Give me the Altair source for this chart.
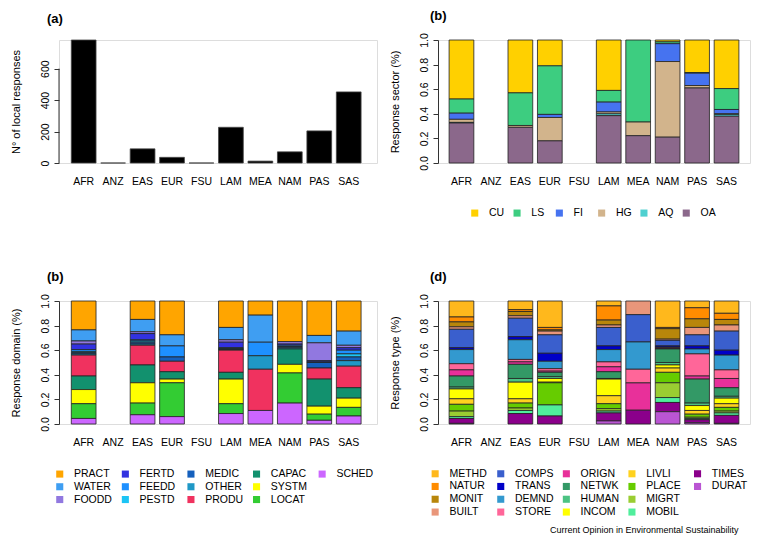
import altair as alt
import pandas as pd

REGIONS = ["AFR", "ANZ", "EAS", "EUR", "FSU", "LAM", "MEA", "NAM", "PAS", "SAS"]

# (a) number of local responses
N_LOCAL = [782, 0, 90, 36, 0, 227, 12, 71, 204, 452]

# (b) response sector shares (AFR, ANZ, EAS, EUR, FSU, LAM, MEA, NAM, PAS, SAS)
SECTORS = ["CU", "LS", "FI", "HG", "AQ", "OA"]
SECTOR_COLORS = ["#FFD000", "#3DCD80", "#4673F0", "#D2B48C", "#4FD0D0", "#8B688B"]
S_CU = [0.48, 0, 0.43, 0.21, 0, 0.41, 0, 0.015, 0.265, 0.395]
S_LS = [0.115, 0, 0.265, 0.395, 0, 0.095, 0.667, 0.015, 0.005, 0.17]
S_FI = [0.05, 0, 0, 0.025, 0, 0.08, 0, 0.145, 0.10, 0.035]
S_HG = [0.025, 0, 0.015, 0.19, 0, 0.015, 0.111, 0.615, 0.02, 0.005]
S_AQ = [0.005, 0, 0, 0, 0, 0.015, 0, 0, 0, 0.015]
S_OA = [0.325, 0, 0.29, 0.18, 0, 0.385, 0.222, 0.21, 0.61, 0.38]

# (c) response domain shares
DOMAINS = ["PRACT", "WATER", "FOODD", "FERTD", "FEEDD", "PESTD", "MEDIC",
           "OTHER", "PRODU", "CAPAC", "SYSTM", "LOCAT", "SCHED"]
DOMAIN_COLORS = ["#FFA500", "#3F9EF2", "#9178E0", "#3232E0", "#1E90FF", "#1CC4F5",
                 "#1560BD", "#1F98C6", "#F0325F", "#12916E", "#FFFF00", "#33CC33", "#CC66FF"]
D_PRACT = [0.235, 0, 0.15, 0.275, 0, 0.215, 0.115, 0.33, 0.28, 0.245]
D_WATER = [0.09, 0, 0.10, 0.09, 0, 0.10, 0.22, 0, 0.06, 0.115]
D_FOODD = [0.025, 0, 0.015, 0, 0, 0.02, 0, 0.02, 0.145, 0.02]
D_FERTD = [0.045, 0, 0.05, 0, 0, 0.045, 0, 0.01, 0.01, 0.02]
D_FEEDD = [0.015, 0, 0.01, 0.09, 0, 0.005, 0.11, 0.01, 0.005, 0.03]
D_PESTD = [0.01, 0, 0.01, 0, 0, 0.005, 0, 0, 0, 0.025]
D_MEDIC = [0.01, 0, 0.015, 0.035, 0, 0.005, 0, 0.01, 0.045, 0.03]
D_OTHER = [0.01, 0, 0.01, 0, 0, 0.005, 0.11, 0.01, 0, 0.045]
D_PRODU = [0.17, 0, 0.16, 0.085, 0, 0.18, 0.335, 0, 0.09, 0.175]
D_CAPAC = [0.11, 0, 0.145, 0.06, 0, 0.055, 0, 0.125, 0.22, 0.085]
D_SYSTM = [0.115, 0, 0.165, 0.03, 0, 0.20, 0, 0.07, 0.065, 0.075]
D_LOCAT = [0.12, 0, 0.095, 0.275, 0, 0.08, 0, 0.245, 0.05, 0.07]
D_SCHED = [0.045, 0, 0.075, 0.06, 0, 0.085, 0.11, 0.17, 0.03, 0.065]

# (d) response type shares
TYPES = ["METHD", "NATUR", "MONIT", "BUILT", "COMPS", "TRANS", "DEMND", "STORE", "ORIGN",
         "NETWK", "HUMAN", "INCOM", "LIVLI", "PLACE", "MIGRT", "MOBIL", "TIMES", "DURAT"]
TYPE_COLORS = ["#FFB81C", "#FF8C00", "#B8860B", "#E9967A", "#3A5FCD", "#0000C8", "#3399CF",
               "#FF6699", "#E8309A", "#339966", "#4CC383", "#FFFF00", "#FFD21F", "#66CC00",
               "#9ACD32", "#50EE9C", "#8B008B", "#BA55D3"]
T_METHD = [0.13, 0, 0.07, 0.215, 0, 0.04, 0, 0.215, 0.055, 0.10]
T_NATUR = [0.04, 0, 0.015, 0.02, 0, 0.115, 0, 0.01, 0.09, 0.05]
T_MONIT = [0.04, 0, 0.035, 0.01, 0, 0.04, 0, 0.085, 0.07, 0.045]
T_BUILT = [0.02, 0, 0.02, 0.03, 0, 0.02, 0.111, 0.01, 0.06, 0.05]
T_COMPS = [0.15, 0, 0.15, 0.15, 0, 0.15, 0.222, 0.045, 0.09, 0.155]
T_TRANS = [0.015, 0, 0.025, 0.065, 0, 0.03, 0, 0.01, 0.025, 0.04]
T_DEMND = [0.115, 0, 0.16, 0.06, 0, 0.10, 0.222, 0.005, 0.04, 0.12]
T_STORE = [0.05, 0, 0.02, 0.02, 0, 0.04, 0.111, 0.005, 0.18, 0.07]
T_ORIGN = [0.05, 0, 0.02, 0.01, 0, 0.04, 0.222, 0.005, 0.025, 0.075]
T_NETWK = [0.09, 0, 0.115, 0.035, 0, 0.055, 0, 0.11, 0.195, 0.07]
T_HUMAN = [0.015, 0, 0.03, 0.015, 0, 0.005, 0, 0.02, 0.02, 0.015]
T_INCOM = [0.08, 0, 0.135, 0.03, 0, 0.135, 0, 0.025, 0.04, 0.045]
T_LIVLI = [0.045, 0, 0.035, 0.005, 0, 0.065, 0, 0.035, 0.03, 0.03]
T_PLACE = [0.055, 0, 0.04, 0.18, 0, 0.04, 0, 0.085, 0.025, 0.03]
T_MIGRT = [0.045, 0, 0.02, 0, 0, 0.02, 0, 0.12, 0.01, 0.015]
T_MOBIL = [0.015, 0, 0.025, 0.09, 0, 0.015, 0, 0.04, 0.01, 0.02]
T_TIMES = [0.04, 0, 0.085, 0.065, 0, 0.065, 0.112, 0.075, 0.025, 0.065]
T_DURAT = [0.005, 0, 0, 0, 0, 0.025, 0, 0.10, 0.01, 0.005]

SECTOR_SERIES = [S_CU, S_LS, S_FI, S_HG, S_AQ, S_OA]
DOMAIN_SERIES = [D_PRACT, D_WATER, D_FOODD, D_FERTD, D_FEEDD, D_PESTD, D_MEDIC,
                 D_OTHER, D_PRODU, D_CAPAC, D_SYSTM, D_LOCAT, D_SCHED]
TYPE_SERIES = [T_METHD, T_NATUR, T_MONIT, T_BUILT, T_COMPS, T_TRANS, T_DEMND, T_STORE,
               T_ORIGN, T_NETWK, T_HUMAN, T_INCOM, T_LIVLI, T_PLACE, T_MIGRT, T_MOBIL,
               T_TIMES, T_DURAT]

FONT = "Liberation Sans"
H = 123
BLANK = "rgba(0,0,0,0)"


def long_table(cats, series):
    rows = []
    n = len(cats)
    for k, (c, vals) in enumerate(zip(cats, series)):
        for r, v in zip(REGIONS, vals):
            if v > 0:
                rows.append({"region": r, "cat": c, "value": v, "ord": n - k})
    return pd.DataFrame(rows)


def x_enc(po, align):
    return alt.X("region:N",
                 scale=alt.Scale(domain=REGIONS, paddingInner=0.16, paddingOuter=po, align=align),
                 axis=alt.Axis(title=None, domain=False, ticks=False, tickSize=0, labelAngle=0,
                               labelPadding=13, labelFontSize=10.5, labelColor="black",
                               labelFont=FONT))


def y_axis(title, values, fmt, show_domain=True):
    return alt.Axis(title=title, values=values, format=fmt, grid=False, domain=show_domain,
                    labelAngle=-90, labelAlign="center", labelBaseline="bottom",
                    labelFontSize=10.5, labelColor="black", labelFont=FONT, labelPadding=4,
                    labelFlush=False, labelOverlap=False,
                    tickSize=5, tickColor="#333", domainColor="#333",
                    titleFontSize=11, titleFontWeight="normal", titleColor="black",
                    titleFont=FONT, titlePadding=18, minExtent=20, maxExtent=20)


def panel_title(text, dx, offset=0):
    return alt.TitleParams(text=text, anchor="start", frame="group", dx=dx, fontSize=13,
                           fontWeight="bold", font=FONT, color="black",
                           baseline="alphabetic", offset=offset)


LEFT_W, LEFT_PO, LEFT_AL = 318, 0.479, 0.436
RIGHT_W, RIGHT_PO, RIGHT_AL = 312, 0.377, 0.5

# ---- (a)
A_SCALE = alt.Scale(domain=[0, max(N_LOCAL)], nice=False)
A_AXIS = y_axis("N° of local responses", [0, 200, 400, 600], "d", show_domain=False)
df_a = pd.DataFrame({"region": REGIONS, "n": N_LOCAL})
bars_a = alt.Chart(df_a).mark_bar(color="black", stroke="#444", strokeWidth=0.8).encode(
    x=x_enc(LEFT_PO, LEFT_AL),
    y=alt.Y("n:Q", scale=A_SCALE, axis=A_AXIS),
)
rule_a = alt.Chart(pd.DataFrame({"n": [0], "n2": [600]})).mark_rule(
    color="#333", strokeWidth=1).encode(
    y=alt.Y("n:Q", scale=A_SCALE, axis=A_AXIS),
    y2="n2:Q",
    x=alt.value(0),
)
panel_a = alt.layer(bars_a, rule_a).properties(
    width=LEFT_W, height=H, title=panel_title("(a)", -12, 4))


def stacked(cats, colors, series, ncols, n_blank, ytitle, title, dx, w, po, al, lx, ly, colpad):
    df = long_table(cats, series)
    dom = list(cats) + [" " * (i + 1) for i in range(n_blank)]
    rng = list(colors) + [BLANK] * n_blank
    return alt.Chart(df).mark_bar(stroke="#222", strokeWidth=0.8).encode(
        x=x_enc(po, al),
        y=alt.Y("value:Q", stack="zero", scale=alt.Scale(domain=[0, 1], nice=False),
                axis=y_axis(ytitle, [0, 0.2, 0.4, 0.6, 0.8, 1.0], ".1f")),
        color=alt.Color("cat:N", scale=alt.Scale(domain=dom, range=rng),
                        legend=alt.Legend(title=None, orient="none", legendX=lx, legendY=ly,
                                          columns=ncols, gridAlign="all", symbolType="square",
                                          symbolSize=50, symbolStrokeWidth=0,
                                          labelFontSize=10.5, labelFont=FONT,
                                          labelColor="black", labelOffset=9,
                                          columnPadding=colpad, rowPadding=1.8, padding=0)),
        order=alt.Order("ord:Q", sort="ascending"),
    ).properties(width=w, height=H, title=panel_title(title, dx))


panel_b = stacked(SECTORS, SECTOR_COLORS, SECTOR_SERIES, 6, 0, "Response sector (%)", "(b)",
                  -8, RIGHT_W, RIGHT_PO, RIGHT_AL, 31.5, 167.7, 6.3)
panel_c = stacked(DOMAINS, DOMAIN_COLORS, DOMAIN_SERIES, 5, 1, "Response domain (%)", "(b)",
                  -12, LEFT_W, LEFT_PO, LEFT_AL, -4.5, 167.7, 7.6)
panel_d = stacked(TYPES, TYPE_COLORS, TYPE_SERIES, 5, 1, "Response type (%)", "(d)",
                  -8, RIGHT_W, RIGHT_PO, RIGHT_AL, -8.1, 167.4, 6.6)

top = alt.hconcat(panel_a, panel_b, spacing=10).resolve_scale(color="independent")
bottom = alt.hconcat(panel_c, panel_d, spacing=10).resolve_scale(color="independent")

chart = alt.vconcat(top, bottom, spacing=50).resolve_scale(
    color="independent").resolve_legend(color="independent").properties(
    padding={"left": 1, "top": 1, "right": 0, "bottom": 0},
    title=alt.TitleParams(text="Current Opinion in Environmental Sustainability",
                          orient="bottom", anchor="end", fontSize=9, fontWeight="normal",
                          font=FONT, color="black", offset=7, dx=-12),
).configure_view(stroke=None).configure(font=FONT, background="white")

chart.save("out.html", embed_options={"renderer": "svg", "actions": False})
